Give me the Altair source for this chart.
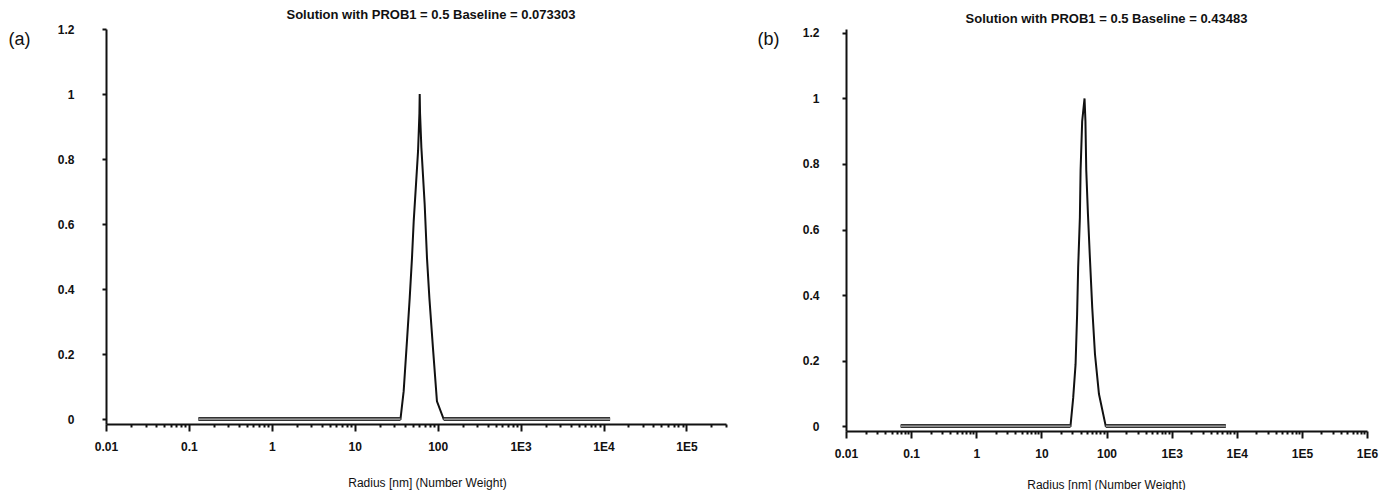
import altair as alt
import pandas as pd

# ---------------- data ----------------
# Panel (a): radius [nm] and normalised number-weight distribution
a_radius = [0.13, 35.6, 38.9, 42.6, 46.0, 49.0, 51.4, 54.8, 58.0, 60.2, 60.7,
            61.3, 63.6, 69.7, 74.3, 79.4, 87.7, 98.0, 118.0, 12000.0]
a_value = [0.0, 0.0, 0.086, 0.24, 0.373, 0.496, 0.609, 0.723, 0.825, 0.94, 1.0,
           0.94, 0.835, 0.66, 0.496, 0.373, 0.219, 0.055, 0.0, 0.0]

# Panel (b)
b_radius = [0.069, 28.0, 30.8, 33.5, 35.4, 36.7, 39.0, 40.0, 42.3, 46.0, 47.5,
            48.9, 51.9, 55.6, 60.4, 66.5, 76.6, 97.3, 6800.0]
b_value = [0.0, 0.0, 0.086, 0.189, 0.342, 0.483, 0.636, 0.78, 0.93, 1.0, 0.93,
           0.78, 0.647, 0.514, 0.361, 0.22, 0.098, 0.0, 0.0]

a_tick_values = [0.01, 0.1, 1, 10, 100, 1e3, 1e4, 1e5]
a_tick_labels = ["0.01", "0.1", "1", "10", "100", "1E3", "1E4", "1E5"]
b_tick_values = a_tick_values + [1e6]
b_tick_labels = a_tick_labels + ["1E6"]
y_tick_values = [0, 0.2, 0.4, 0.6, 0.8, 1.0, 1.2]

a_title = "Solution with PROB1 = 0.5 Baseline = 0.073303"
b_title = "Solution with PROB1 = 0.5 Baseline = 0.43483"
x_title = "Radius [nm] (Number Weight)"
a_letter = "(a)"
b_letter = "(b)"

FONT = "Liberation Sans"
LX = "log(datum.value)/LN10"
MAJOR_TEST = f"abs({LX} - round({LX})) < 0.001"


def label_expr(values, labels):
    expr = "''"
    for val, lab in reversed(list(zip(values, labels))):
        expr = f"abs(datum.value - {val}) < {val * 1e-6} ? '{lab}' : ({expr})"
    return expr


def flat_segments(values):
    # id of each run of consecutive zero values (the flat baseline pieces)
    seg, out, prev_zero = -1, [], False
    for v in values:
        z = v == 0
        if z and not prev_zero:
            seg += 1
        out.append(seg if z else -1)
        prev_zero = z
    return out


def panel(radius, value, major_vals, major_labels, xmax, width, height, ytop,
          title, letter, letter_x, title_dx, xtitle_x, ylab_pad, xtitle_pad):
    df = pd.DataFrame({"r": radius, "v": value, "i": list(range(len(radius))),
                       "seg": flat_segments(value)})
    minor = [m * k for m in major_vals for k in range(2, 10) if m * k <= xmax]
    all_vals = sorted(major_vals + minor)
    x_axis = alt.Axis(
        values=all_vals,
        labelExpr=label_expr(major_vals, major_labels),
        labelOverlap=False,
        labelFlush=False,
        tickSize={"condition": {"test": MAJOR_TEST, "value": 7}, "value": 3},
        labelPadding=10,
        title=x_title,
        titlePadding=xtitle_pad,
        titleFontSize=12,
        titleFontWeight="normal",
        titleX=xtitle_x,
    )
    y_axis = alt.Axis(
        values=y_tick_values,
        format="~g",
        tickSize=4,
        labelPadding=ylab_pad,
        title=letter,
        titleAngle=0,
        titleX=letter_x,
        titleY=10,
        titleAlign="left",
        titleBaseline="middle",
        titleFontSize=18,
        titleFontWeight="normal",
    )
    x_enc = alt.X("r:Q", scale=alt.Scale(type="log", domain=[0.01, xmax], nice=False),
                  axis=x_axis)
    y_enc = alt.Y("v:Q", scale=alt.Scale(domain=[-0.015, ytop], nice=False, zero=False),
                  axis=y_axis)
    base = alt.Chart(df)
    line = base.mark_line(color="#111111", strokeWidth=2).encode(
        x=x_enc, y=y_enc, order=alt.Order("i:Q"))
    flat = base.transform_filter("datum.seg >= 0")
    flat_dark = flat.mark_line(color="#333333", strokeWidth=4).encode(
        x=alt.X("r:Q"), y=alt.Y("v:Q"), detail="seg:N", order=alt.Order("i:Q"))
    flat_light = flat.mark_line(color="#b0b0b0", strokeWidth=1.2).encode(
        x=alt.X("r:Q"), y=alt.Y("v:Q"), detail="seg:N", order=alt.Order("i:Q"))
    return alt.layer(line, flat_dark, flat_light).properties(
        width=width,
        height=height,
        title=alt.TitleParams(title, fontSize=13, font=FONT, fontWeight="bold",
                              anchor="middle", dx=title_dx, offset=1,
                              color="#111111"),
    )


pa = panel(a_radius, a_value, a_tick_values, a_tick_labels, 3e5, 620, 395, 1.2,
           a_title, a_letter, -98, 15, 321, 28, 25)
pb = panel(b_radius, b_value, b_tick_values, b_tick_labels, 1e6, 521, 402, 1.212,
           b_title, b_letter, -89, 0, 260, 23, 20)

chart = alt.hconcat(pa, pb, spacing=30).properties(
    padding={"left": 0, "top": 1, "right": 2, "bottom": 0}
).configure_view(stroke=None).configure_axis(
    grid=False,
    domainColor="#111111",
    domainWidth=2,
    tickColor="#111111",
    tickWidth=2,
    labelFont=FONT,
    labelFontSize=12,
    labelFontWeight="bold",
    labelColor="#111111",
    titleFont=FONT,
    titleColor="#111111",
)

chart.save("out.html", embed_options={"renderer": "svg", "actions": False})
